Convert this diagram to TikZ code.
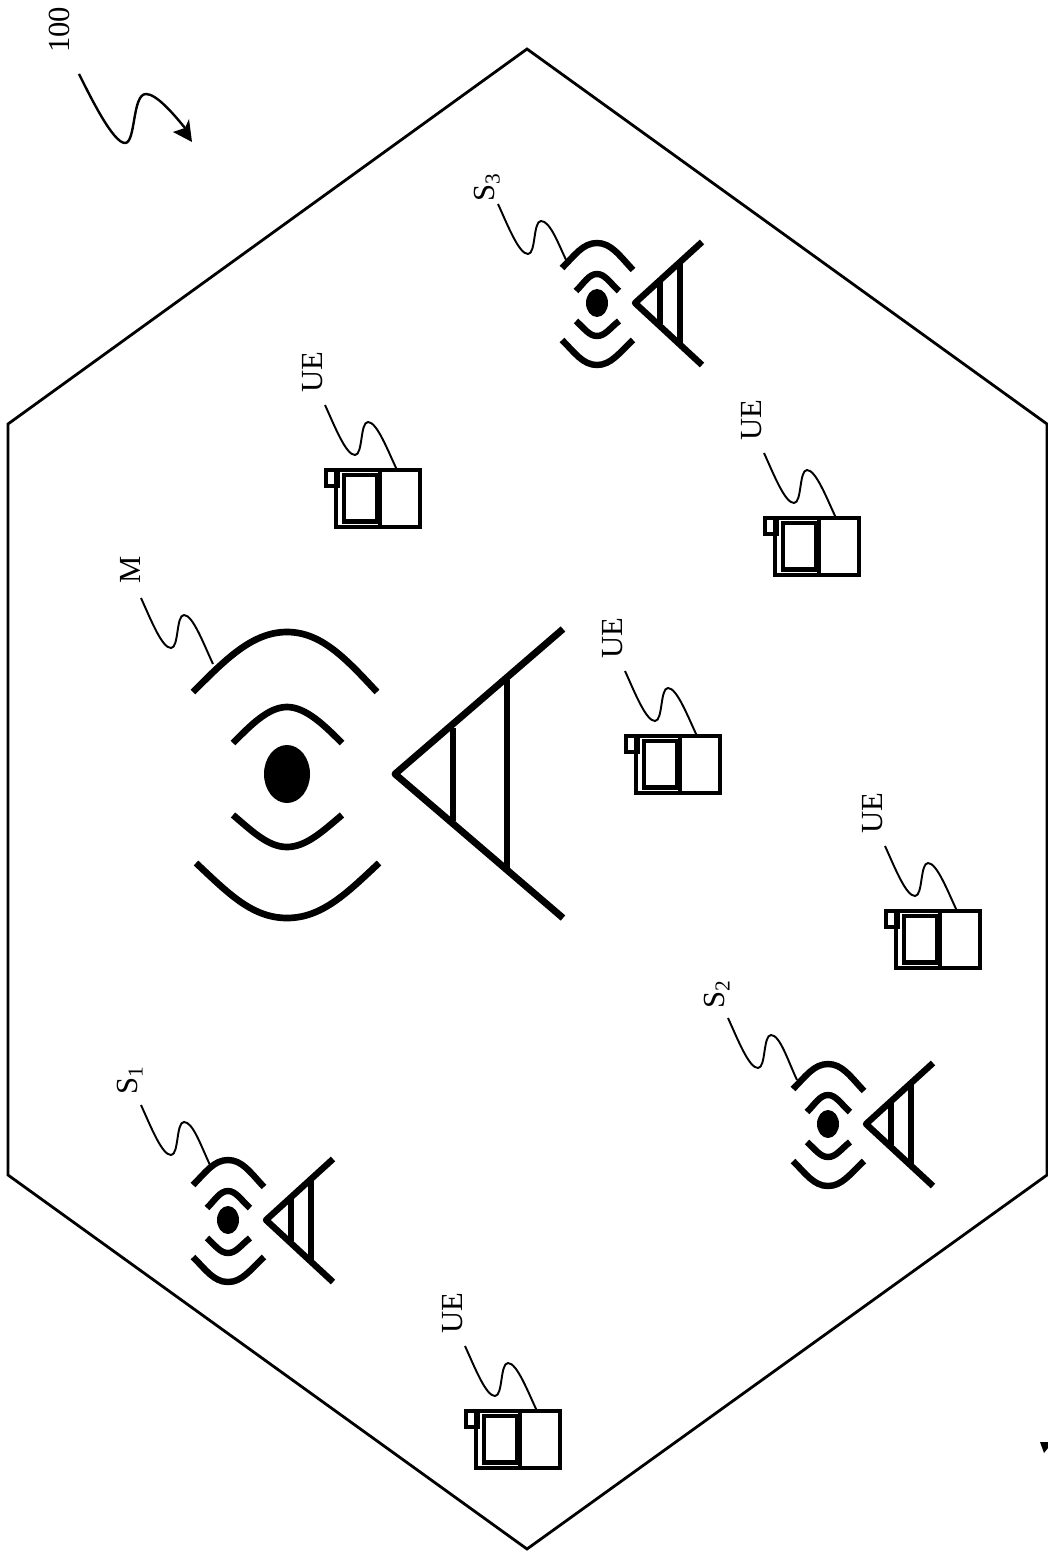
\documentclass[tikz,border=0pt]{standalone}
\usepackage{fontspec}
\setmainfont{Liberation Serif}
\newcommand{\lowidx}[1]{\raisebox{-0.16em}{\fontsize{16}{16}\selectfont #1}}
\tikzset{
  lab/.style={rotate=90,inner sep=0pt,font=\fontsize{23}{23}\selectfont},
  hexline/.style={line width=2.1pt,line join=miter},
  squig/.style={line width=1.45pt},
  bodyline/.style={line width=2.3pt},
  innerline/.style={line width=2.7pt},
  tower/.style={line width=5.2pt,line join=round},
  towerbar/.style={line width=4.6pt},
  wave/.style={line width=5pt},
  smalltower/.style={line width=4.8pt,line join=round},
  smallwave/.style={line width=4.8pt},
}
% squiggle from a named start coordinate to a named end coordinate
\newcommand{\squiggle}[2]{%
  \draw[squig] (#1) .. controls +(10,22) and +(-9,0) .. ++(30,50)
     .. controls +(8,0) and +(-8,0) .. ++(13,-33)
     .. controls +(9,0) and +(-9,-19) .. (#2);}
\newcommand{\ueunit}[3]{%
  \begin{scope}[shift={(#2,#3)}]
    \node[lab] (#1lab) at (-23,-98) {UE};
    \coordinate (#1s) at (-11,-65);
    \coordinate (#1e) at (61,0);
    \draw[bodyline] (0,0) rectangle (84,57);
    \draw[bodyline] (-10,0) rectangle (2,16);
    \draw[bodyline] (44,0) -- (44,57);
    \draw[innerline] (8,5) rectangle (41,52);
    \draw[line width=3.6pt] (8,51) -- (41,51);
    \squiggle{#1s}{#1e}
  \end{scope}}
\newcommand{\smallbs}[3]{%
  \begin{scope}[shift={(#2,#3)}]
    \draw[smalltower] (105,-61) -- (38,0) -- (105,62);
    \draw[smalltower] (63,-21) -- (63,21);
    \draw[smalltower] (83,-41) -- (83,41);
    \draw[smallwave] (-35,-35) .. controls (-22,-48) and (-14,-60) .. (0,-60) .. controls (14,-60) and (22,-48) .. (36,-33);
    \draw[smallwave] (-35,37) .. controls (-22,50) and (-14,62) .. (0,62) .. controls (14,62) and (22,50) .. (36,37);
    \draw[smallwave] (-21,-12) .. controls (-13,-20) and (-8,-29) .. (0,-29) .. controls (8,-29) and (13,-20) .. (22,-12);
    \draw[smallwave] (-21,18) .. controls (-13,25) and (-8,33) .. (0,33) .. controls (8,33) and (13,25) .. (22,18);
    \fill (0,0) ellipse [x radius=11,y radius=14];
    \coordinate (#1dot) at (0,0);
  \end{scope}}
\begin{document}
\begin{tikzpicture}[x=0.75pt,y=-0.75pt]
\useasboundingbox (0,0) rectangle (1048,1551);
% cell
\draw[hexline] (527,49) -- (1047,424) -- (1047,1175) -- (527,1549) -- (8,1175) -- (8,424) -- cycle;
% reference 100
\node[lab] (hundred) at (59,30) {100};
\coordinate (ars) at (79,74);
\coordinate (are) at (185,128);
\coordinate (art) at (192,142);
\draw[line width=1.8pt] (ars) .. controls (90,96) and (113,143) .. (125,143)
   .. controls (136,143) and (132,94) .. (146,94)
   .. controls (156,94) and (172,112) .. (are);
\fill (art) -- (189,119) -- (are) -- (173,132) -- cycle;
% macro cell M
\draw[tower] (563,629) -- (395,774) -- (563,918);
\draw[towerbar] (453,728) -- (453,821);
\draw[towerbar] (507,680) -- (507,868);
\draw[wave] (193,692) .. controls (225,660) and (252,632) .. (287,632) .. controls (322,632) and (347,660) .. (377,692);
\draw[wave] (196,863) .. controls (228,893) and (252,918) .. (287,918) .. controls (322,918) and (347,893) .. (379,863);
\draw[wave] (233,743) .. controls (250,726) and (268,707) .. (287,707) .. controls (306,707) and (325,726) .. (342,743);
\draw[wave] (233,815) .. controls (252,831) and (268,847) .. (287,847) .. controls (306,847) and (323,831) .. (342,815);
\fill (287,774) ellipse [x radius=23,y radius=29];
\node[lab] (mlab) at (130,570) {M};
\coordinate (ms) at (141,598);
\coordinate (me) at (213,664);
\squiggle{ms}{me}
% small cells
\smallbs{sone}{228}{1220}
\smallbs{stwo}{828}{1124}
\smallbs{sthree}{597}{303}
\node[lab] (sonelab) at (130,1081) {S\lowidx{1}};
\node[lab] (stwolab) at (717,995) {S\lowidx{2}};
\node[lab] (sthreelab) at (487,188) {S\lowidx{3}};
\coordinate (sones) at (141,1105);
\coordinate (sonee) at (210,1165);
\coordinate (stwos) at (728,1018);
\coordinate (stwoe) at (797,1080);
\coordinate (sthrees) at (498,204);
\coordinate (sthreee) at (567,262);
\squiggle{sones}{sonee}
\squiggle{stwos}{stwoe}
\squiggle{sthrees}{sthreee}
% user equipment
\ueunit{ueone}{336}{470}
\ueunit{uetwo}{775}{518}
\ueunit{uethree}{636}{736}
\ueunit{uefour}{896}{911}
\ueunit{uefive}{476}{1411}
% clipped fragment at the page edge
\fill (1040,1442) -- (1048,1442) -- (1048,1448) -- (1044,1453) -- cycle;
\end{tikzpicture}
\end{document}
